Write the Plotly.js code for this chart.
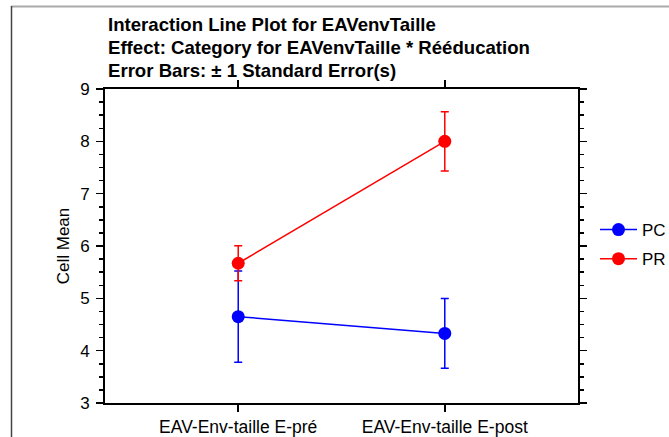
<!DOCTYPE html>
<html>
<head>
<meta charset="utf-8">
<script src="https://cdn.plot.ly/plotly-3.0.1.min.js"></script>
<style>html,body{margin:0;padding:0;background:#fff;}#chart{width:669px;height:437px;}</style>
</head>
<body>
<div id="chart"></div>
<script>
const categories = ["EAV-Env-taille E-pré", "EAV-Env-taille E-post"];
const seriesNames = ["PC", "PR"];
const pcMeans = [4.65, 4.33];
const pcSE = [0.87, 0.665];
const prMeans = [5.67, 8.0];
const prSE = [0.335, 0.565];
const yTicks = [3, 4, 5, 6, 7, 8, 9];
const titleLines = [
  "Interaction Line Plot for EAVenvTaille",
  "Effect: Category for EAVenvTaille * Rééducation",
  "Error Bars: ± 1 Standard Error(s)"
];

const FONT = "Liberation Sans, Arial, sans-serif";

function trace(name, means, se, color, grp) {
  return {
    type: "scatter", mode: "lines+markers", name: name,
    x: categories, y: means,
    legendgroup: grp,
    line: {color: color, width: 1.5},
    marker: {color: color, size: 13, symbol: "circle"},
    error_y: {type: "data", array: se, visible: true, color: color, thickness: 1.5, width: 4},
    hoverinfo: "skip"
  };
}

const data = [
  trace(seriesNames[0], pcMeans, pcSE, "#0000ff", "a"),
  trace(seriesNames[1], prMeans, prSE, "#ff0000", "b")
];

const L = 105, R = 578, T = 89, B = 403, W = 669, H = 437;
const px = v => (v - L) / (R - L);
const py = v => (B - v) / (B - T);

const titleY = [24.5, 47.5, 70.5];
const annotations = titleLines.map((t, i) => ({
  text: "<b>" + t + "</b>",
  xref: "paper", yref: "paper",
  x: px(106), xanchor: "left",
  y: py(titleY[i]), yanchor: "middle",
  showarrow: false,
  font: {family: FONT, size: 18.6, color: "#000"}
}));

const layout = {
  width: W, height: H,
  margin: {l: L, r: W - R, t: T, b: H - B, pad: 0, autoexpand: false},
  paper_bgcolor: "#ffffff", plot_bgcolor: "#ffffff",
  font: {family: FONT, size: 17, color: "#000"},
  annotations: annotations,
  xaxis: {
    type: "category",
    range: [-0.645, 1.645],
    showgrid: false, zeroline: false,
    showline: true, linecolor: "#000", linewidth: 2, mirror: "allticks",
    ticks: "outside", ticklen: 7, tickwidth: 1.5, tickcolor: "#000",
    tickfont: {family: FONT, size: 17.5, color: "#000"}
  },
  yaxis: {
    range: [3, 9],
    tickvals: yTicks,
    showgrid: false, zeroline: false,
    showline: true, linecolor: "#000", linewidth: 2, mirror: "allticks",
    ticks: "outside", ticklen: 7, tickwidth: 1.5, tickcolor: "#000",
    ticklabelstandoff: 3,
    minor: {dtick: 0.25, ticks: "outside", ticklen: 4, tickwidth: 1.5, tickcolor: "#000", showgrid: false},
    tickfont: {family: FONT, size: 17, color: "#000"},
    title: {text: "Cell Mean", font: {family: FONT, size: 17, color: "#000"}, standoff: 6}
  },
  showlegend: true,
  legend: {
    x: px(595), xanchor: "left",
    y: py(212), yanchor: "top",
    bgcolor: "rgba(0,0,0,0)", borderwidth: 0,
    font: {family: FONT, size: 17, color: "#000"},
    traceorder: "grouped", tracegroupgap: 4,
    itemwidth: 37
  },
  shapes: [
    {type: "line", xref: "paper", yref: "paper", x0: px(11), x1: px(669), y0: py(6.5), y1: py(6.5), line: {color: "#aaaaaa", width: 2}},
    {type: "line", xref: "paper", yref: "paper", x0: px(11.5), x1: px(11.5), y0: py(6), y1: py(437), line: {color: "#444444", width: 1.5}}
  ]
};

Plotly.newPlot("chart", data, layout, {displayModeBar: false, staticPlot: true});
</script>
</body>
</html>
